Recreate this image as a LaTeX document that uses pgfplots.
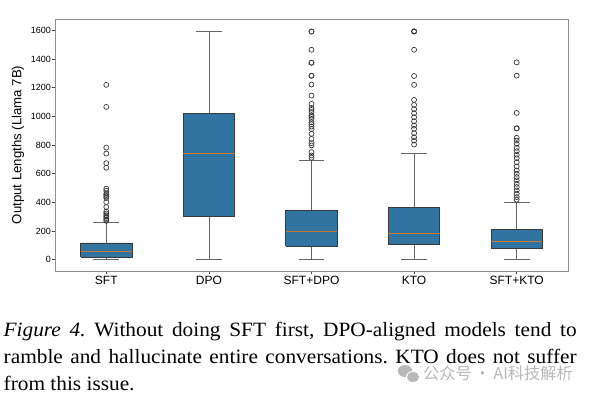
\documentclass[border=0pt]{standalone}
\usepackage{pgfplots}
\pgfplotsset{compat=1.18}
\usepackage{fontspec}
\setmainfont{Liberation Serif}
\newfontfamily\chartfont{Liberation Sans}
\newfontfamily\cjk{Noto Sans CJK SC}
\definecolor{boxblue}{HTML}{3274A1}
\definecolor{boxedge}{HTML}{3A3A3A}
\definecolor{whisk}{HTML}{656565}
\definecolor{medc}{HTML}{C9772F}
\definecolor{framec}{HTML}{8F8F8F}
\definecolor{fliers}{HTML}{3A3A3A}
\definecolor{wmgray}{HTML}{B8B8B8}
\pgfplotsset{
  wh/.style={draw=whisk, line width=0.8pt, mark=none},
  bx/.style={draw=boxedge, fill=boxblue, line width=0.8pt, mark=none},
  md/.style={draw=medc, line width=0.9pt, mark=none},
}
\frenchspacing
\begin{document}
\frenchspacing
\begin{tikzpicture}
\path[use as bounding box] (0pt,0pt) rectangle (591pt,398pt);
\begin{axis}[
  at={(55pt,127pt)}, anchor=south west,
  scale only axis, width=513pt, height=252pt,
  xmin=-0.5, xmax=4.5, ymin=-80, ymax=1680,
  xtick={0,1,2,3,4},
  xticklabels={SFT,DPO,SFT+DPO,KTO,SFT+KTO},
  ytick={0,200,400,600,800,1000,1200,1400,1600},
  /pgf/number format/1000 sep={},
  /pgf/number format/assume math mode=true,
  tick align=outside, major tick length=3pt,
  tick style={color=black!75, line width=0.6pt},
  xtick pos=bottom, ytick pos=left,
  axis line style={draw=framec, line width=0.8pt},
  yticklabel style={font=\chartfont\fontsize{9}{10}\selectfont, inner sep=1pt},
  xticklabel style={font=\chartfont\fontsize{12}{13}\selectfont, inner sep=2pt},
  ylabel={\chartfont\fontsize{13.2}{14}\selectfont Output Lengths (Llama 7B)},
  ylabel style={at={(axis description cs:-0.072,0.5)}, anchor=center},
]
% SFT: 0 / 18 / 56 / 116 / 258
\addplot[wh] coordinates {(0,0) (0,18)};
\addplot[wh] coordinates {(0,116) (0,258)};
\addplot[wh] coordinates {(-0.125,0) (0.125,0)};
\addplot[wh] coordinates {(-0.125,258) (0.125,258)};
\addplot[bx] coordinates {(-0.25,18) (0.25,18) (0.25,116) (-0.25,116) (-0.25,18)};
\addplot[md] coordinates {(-0.25,56) (0.25,56)};
% DPO: 0 / 302 / 739 / 1022 / 1596
\addplot[wh] coordinates {(1,0) (1,302)};
\addplot[wh] coordinates {(1,1022) (1,1596)};
\addplot[wh] coordinates {(0.875,0) (1.125,0)};
\addplot[wh] coordinates {(0.875,1596) (1.125,1596)};
\addplot[bx] coordinates {(0.75,302) (1.25,302) (1.25,1022) (0.75,1022) (0.75,302)};
\addplot[md] coordinates {(0.75,739) (1.25,739)};
% SFT+DPO: 0 / 93 / 197 / 341 / 692
\addplot[wh] coordinates {(2,0) (2,93)};
\addplot[wh] coordinates {(2,341) (2,692)};
\addplot[wh] coordinates {(1.875,0) (2.125,0)};
\addplot[wh] coordinates {(1.875,692) (2.125,692)};
\addplot[bx] coordinates {(1.75,93) (2.25,93) (2.25,341) (1.75,341) (1.75,93)};
\addplot[md] coordinates {(1.75,197) (2.25,197)};
% KTO: 0 / 104 / 181 / 364 / 741
\addplot[wh] coordinates {(3,0) (3,104)};
\addplot[wh] coordinates {(3,364) (3,741)};
\addplot[wh] coordinates {(2.875,0) (3.125,0)};
\addplot[wh] coordinates {(2.875,741) (3.125,741)};
\addplot[bx] coordinates {(2.75,104) (3.25,104) (3.25,364) (2.75,364) (2.75,104)};
\addplot[md] coordinates {(2.75,181) (3.25,181)};
% SFT+KTO: 0 / 80 / 126 / 212 / 401
\addplot[wh] coordinates {(4,0) (4,80)};
\addplot[wh] coordinates {(4,212) (4,401)};
\addplot[wh] coordinates {(3.875,0) (4.125,0)};
\addplot[wh] coordinates {(3.875,401) (4.125,401)};
\addplot[bx] coordinates {(3.75,80) (4.25,80) (4.25,212) (3.75,212) (3.75,80)};
\addplot[md] coordinates {(3.75,126) (4.25,126)};
% outliers
\addplot[only marks, mark=o, mark size=2.5pt, mark options={draw=fliers, line width=0.7pt}] coordinates {
(0,1220) (0,1066) (0,782) (0,740) (0,673) (0,641) (0,495) (0,480) (0,460) (0,450) (0,440) (0,430) (0,401) (0,367) (0,335) (0,322) (0,310) (0,300) (0,290) (0,280) (0,270)
(2,1593) (2,1592) (2,1465) (2,1375) (2,1374) (2,1284) (2,1283) (2,1222) (2,1145) (2,1087) (2,1059) (2,1045) (2,1029) (2,1006) (2,995) (2,982) (2,959) (2,945) (2,929) (2,912) (2,878) (2,843) (2,813) (2,797) (2,750) (2,727) (2,711)
(3,1594) (3,1593) (3,1592) (3,1465) (3,1282) (3,1220) (3,1115) (3,1080) (3,1050) (3,1022) (3,994) (3,966) (3,936) (3,913) (3,882) (3,854) (3,831) (3,803)
(4,1377) (4,1284) (4,1024) (4,917) (4,916) (4,850) (4,831) (4,808) (4,780) (4,757) (4,732) (4,708) (4,680) (4,650) (4,622) (4,599) (4,576) (4,553) (4,529) (4,506) (4,483) (4,460) (4,436) (4,418)
};
\end{axis}
% caption
\node[anchor=base west, inner sep=0] at (3.5pt,61pt) {\scalebox{1.05}[1]{\fontsize{20.3pt}{26pt}\selectfont\frenchspacing\makebox[545.7pt][s]{\textit{Figure 4.} Without doing SFT first, DPO-aligned models tend to}}};
\node[anchor=base west, inner sep=0] at (3.5pt,34.2pt) {\scalebox{1.05}[1]{\fontsize{20.3pt}{26pt}\selectfont\frenchspacing\makebox[545.7pt][s]{ramble and hallucinate entire conversations. KTO does not suffer}}};
\node[anchor=base west, inner sep=0] at (3.5pt,7.3pt) {\scalebox{1.05}[1]{\fontsize{20.3pt}{26pt}\selectfont from this issue.}};
% watermark
\fill[wmgray] (405pt,27pt) ellipse (7.2pt and 6pt);
\fill[white] (413pt,21pt) ellipse (7pt and 6pt);
\fill[wmgray] (413pt,21pt) ellipse (6pt and 5pt);
\node[anchor=west, inner sep=0, text=wmgray] at (423pt,24.5pt) {\cjk\fontsize{16.2pt}{16pt}\selectfont 公众号\,·\,AI科技解析};
\end{tikzpicture}
\end{document}
